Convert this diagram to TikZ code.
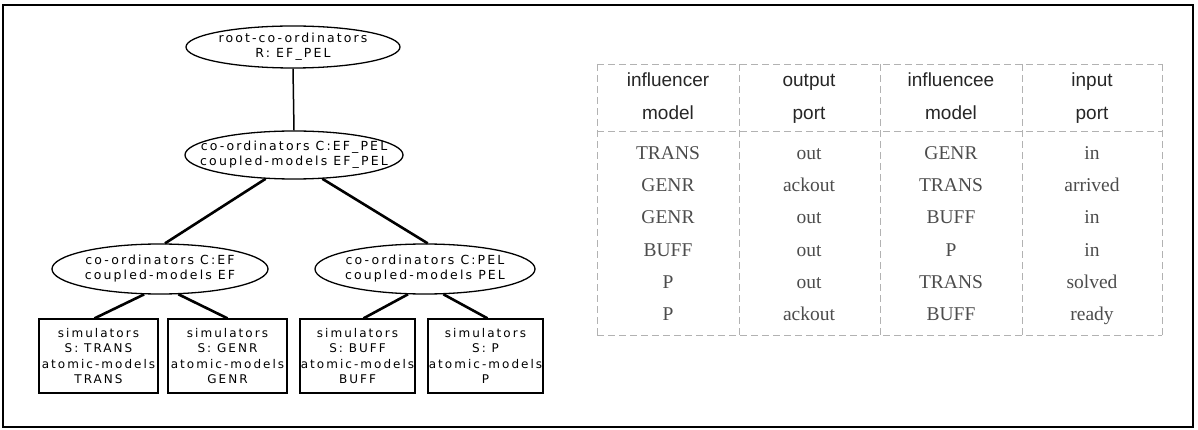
\documentclass[tikz,border=0pt]{standalone}
\usepackage{fontspec}
\setmainfont{Liberation Serif}
\newfontfamily\plotfont[LetterSpace=17]{DejaVu Sans}
\newfontfamily\headfont{Liberation Sans}
\usetikzlibrary{shapes.geometric}
\begin{document}
\begin{tikzpicture}[x=1pt,y=-1pt,
  ell/.style={draw, line width=1.3pt, ellipse, inner sep=0pt},
  elltext/.style={inner sep=0pt, align=center, font=\plotfont\fontsize{12.5}{15}\selectfont},
  simbox/.style={draw, line width=1.3pt, rectangle, inner sep=0pt, minimum height=74pt, align=center, font=\plotfont\fontsize{12}{15.5}\selectfont},
  thinedge/.style={line width=1.5pt},
  thickedge/.style={line width=2.6pt},
  hd/.style={anchor=base, inner sep=0pt, text=black!85, font=\headfont\fontsize{19}{19}\selectfont},
  cell/.style={anchor=base, inner sep=0pt, text=black!70, font=\fontsize{19.5}{19.5}\selectfont},
  gridline/.style={black!30, line width=0.8pt, dash pattern=on 7pt off 4pt}
]
\useasboundingbox (0,0) rectangle (1198,430);
\draw[line width=1.5pt] (3,5) rectangle (1193,427);

% tree
\node[ell, minimum width=214pt, minimum height=42pt] (root) at (293,47) {};
\node[elltext] (rootT) at (root) {root-co-ordinators\\R: EF\_PEL};
\node[ell, minimum width=218pt, minimum height=48pt] (co) at (294,155) {};
\node[elltext] (coT) at (co) {co-ordinators C:EF\_PEL\\coupled-models EF\_PEL};
\node[ell, minimum width=216pt, minimum height=50pt] (cef) at (160,269) {};
\node[elltext] (cefT) at (cef) {co-ordinators C:EF\\coupled-models EF};
\node[ell, minimum width=220pt, minimum height=50pt] (cpel) at (425,269) {};
\node[elltext] (cpelT) at (cpel) {co-ordinators C:PEL\\coupled-models PEL};

\node[simbox, minimum width=119pt] (b1) at (98.5,356) {simulators\\S: TRANS\\atomic-models\\TRANS};
\node[simbox, minimum width=119pt] (b2) at (227.5,356) {simulators\\S: GENR\\atomic-models\\GENR};
\node[simbox, minimum width=115pt] (b3) at (357.5,356) {simulators\\S: BUFF\\atomic-models\\BUFF};
\node[simbox, minimum width=115pt] (b4) at (485.5,356) {simulators\\S: P\\atomic-models\\P};

\draw[thinedge] (root.south) -- (co.north);
\draw[thickedge] (co.220) -- (cef.79);
\draw[thickedge] (co.320) -- (cpel.84);
\draw[thickedge] (cef.238) -- ([xshift=-4pt]b1.north);
\draw[thickedge] (cef.306) -- (b2.north);
\draw[thickedge] (cpel.236) -- ([xshift=6pt]b3.north);
\draw[thickedge] (cpel.306) -- ([xshift=2pt]b4.north);

% table grid
\draw[gridline] (597,64) -- (1162,64);
\draw[gridline] (597,131) -- (1162,131);
\draw[gridline] (597,335) -- (1162,335);
\foreach \gx in {597,739,880,1022,1162} \draw[gridline] (\gx,64) -- (\gx,335);

% header
\node[hd] (h1a) at (668,87) {influencer};
\node[hd] (h1b) at (668,120) {model};
\node[hd] (h2a) at (809,87) {output};
\node[hd] (h2b) at (809,120) {port};
\node[hd] (h3a) at (951,87) {influencee};
\node[hd] (h3b) at (951,120) {model};
\node[hd] (h4a) at (1092,87) {input};
\node[hd] (h4b) at (1092,120) {port};

% rows
\node[cell] (r1a) at (668,160) {TRANS};
\node[cell] (r1b) at (809,160) {out};
\node[cell] (r1c) at (951,160) {GENR};
\node[cell] (r1d) at (1092,160) {in};
\node[cell] (r2a) at (668,192) {GENR};
\node[cell] (r2b) at (809,192) {ackout};
\node[cell] (r2c) at (951,192) {TRANS};
\node[cell] (r2d) at (1092,192) {arrived};
\node[cell] (r3a) at (668,224) {GENR};
\node[cell] (r3b) at (809,224) {out};
\node[cell] (r3c) at (951,224) {BUFF};
\node[cell] (r3d) at (1092,224) {in};
\node[cell] (r4a) at (668,256) {BUFF};
\node[cell] (r4b) at (809,256) {out};
\node[cell] (r4c) at (951,256) {P};
\node[cell] (r4d) at (1092,256) {in};
\node[cell] (r5a) at (668,288) {P};
\node[cell] (r5b) at (809,288) {out};
\node[cell] (r5c) at (951,288) {TRANS};
\node[cell] (r5d) at (1092,288) {solved};
\node[cell] (r6a) at (668,320) {P};
\node[cell] (r6b) at (809,320) {ackout};
\node[cell] (r6c) at (951,320) {BUFF};
\node[cell] (r6d) at (1092,320) {ready};
\end{tikzpicture}
\end{document}
